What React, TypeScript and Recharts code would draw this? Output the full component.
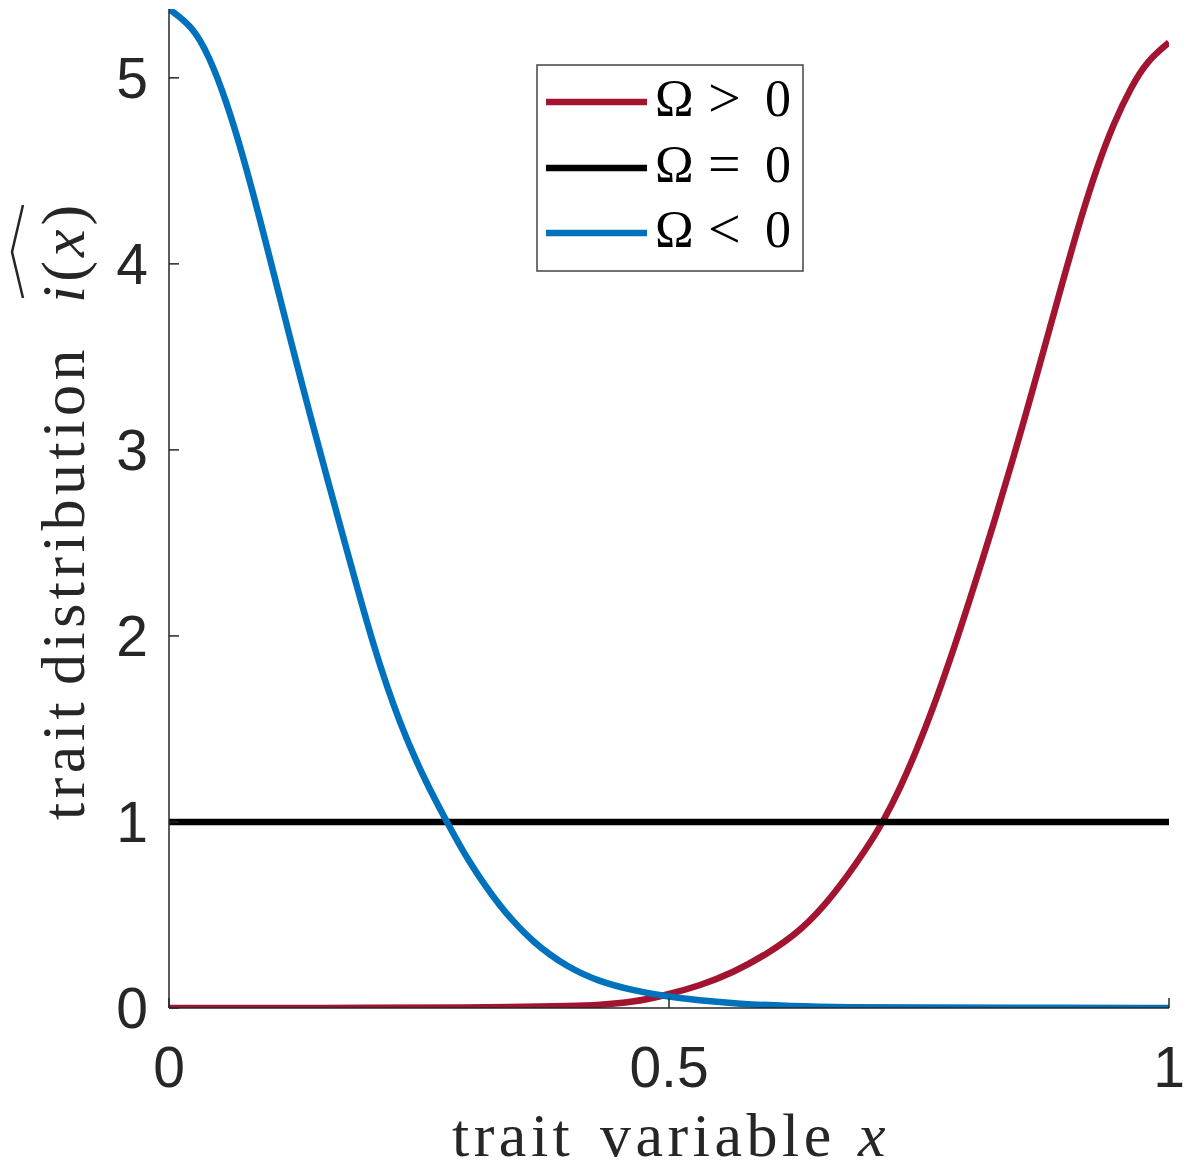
import React from "react"
import {
  LineChart,
  Line,
  XAxis,
  YAxis,
  Legend,
} from "recharts"

// x positions and values
const blueX = [0, 0.023, 0.04, 0.057, 0.073, 0.09, 0.107, 0.123, 0.14, 0.157, 0.181, 0.204, 0.231, 0.258, 0.278, 0.298, 0.331, 0.364, 0.398, 0.431, 0.464, 0.494, 0.53, 0.57, 0.62, 0.68, 0.75, 0.85, 1.0]
const blueY = [5.37, 5.28, 5.12, 4.88, 4.6, 4.26, 3.9, 3.56, 3.21, 2.87, 2.4, 1.95, 1.52, 1.2, 1.0, 0.8, 0.54, 0.35, 0.22, 0.14, 0.095, 0.065, 0.04, 0.022, 0.01, 0.004, 0.002, 0.001, 0]

const redX = [0, 0.1, 0.2, 0.3, 0.36, 0.4, 0.431, 0.464, 0.494, 0.531, 0.564, 0.598, 0.631, 0.664, 0.698, 0.714, 0.731, 0.748, 0.764, 0.781, 0.8, 0.828, 0.845, 0.862, 0.878, 0.895, 0.912, 0.928, 0.945, 0.962, 0.978, 1.0]
const redY = [0, 0, 0.001, 0.003, 0.006, 0.01, 0.016, 0.032, 0.065, 0.12, 0.19, 0.29, 0.41, 0.6, 0.86, 1.0, 1.18, 1.39, 1.61, 1.87, 2.18, 2.66, 2.97, 3.29, 3.6, 3.93, 4.25, 4.52, 4.76, 4.95, 5.09, 5.19]

const blackX = [0, 1]
const blackY = [1, 1]

const xTicks = [0, 0.5, 1]
const yTicks = [0, 1, 2, 3, 4, 5]
const yMax = 5.37

const seriesNames = ["Ω > 0", "Ω = 0", "Ω < 0"]
const seriesRel = [">", "=", "<"]
const seriesColors = ["#A2142F", "#000000", "#0072BD"]

const toRows = (xs: number[], ys: number[]) => xs.map((x, i) => ({ x, y: ys[i] }))

const redData = toRows(redX, redY)
const blackData = toRows(blackX, blackY)
const blueData = toRows(blueX, blueY)

const axisColor = "#262626"
const tickFont = "'Liberation Sans', Arial, sans-serif"
const serif = "'Liberation Serif', 'Times New Roman', serif"
const lineWidth = 6.5

function XTitle() {
  return (
    <text y={1156} fontFamily={serif} fontSize={62} fill={axisColor} letterSpacing={4.5}>
      <tspan x={452}>trait</tspan>
      <tspan x={600}>variable</tspan>
      <tspan x={858} fontStyle="italic">x</tspan>
    </text>
  )
}

function YTitle() {
  return (
    <g transform="translate(84,820) rotate(-90)">
      <text y={0} fontFamily={serif} fontSize={62} fill={axisColor} letterSpacing={4.5}>
        <tspan x={0}>trait</tspan>
        <tspan x={135}>distribution</tspan>
      </text>
      <text x={517} y={0} fontFamily={serif} fontSize={62} fill={axisColor} letterSpacing={4}>
        <tspan fontStyle="italic">i</tspan>(<tspan fontStyle="italic">x</tspan>)
      </text>
      <path d="M 522 -61 L 568 -72 L 615 -61" fill="none" stroke={axisColor} strokeWidth={2.5} />
    </g>
  )
}

function LegendBox() {
  const rows = [103, 169, 234]
  return (
    <svg width={268} height={208} style={{ display: "block" }}>
      <rect x={1} y={1} width={266} height={206} fill="#fff" stroke="#444" strokeWidth={1.5} />
      {seriesNames.map((name, i) => {
        const cy = rows[i] - 65
        return (
          <g key={name}>
            <line x1={10} x2={111} y1={cy} y2={cy} stroke={seriesColors[i]} strokeWidth={lineWidth} />
            <text x={119} y={cy + 14} fontFamily={serif} fontSize={52} fill="#000">Ω</text>
            <text x={172} y={cy + 15} fontFamily={serif} fontSize={58} fill="#000">{seriesRel[i]}</text>
            <text x={229} y={cy + 14} fontFamily={serif} fontSize={52} fill="#000">0</text>
          </g>
        )
      })}
    </svg>
  )
}

export default function App() {
  return (
    <div style={{ position: "absolute", left: 0, top: 0, width: 1185, height: 1168, background: "#fff" }}>
      <LineChart
        width={1185}
        height={1168}
        margin={{ top: 9, right: 16, bottom: 100, left: 109 }}
      >
        <XAxis
          dataKey="x"
          type="number"
          domain={[0, 1]}
          ticks={xTicks}
          allowDataOverflow
          height={60}
          stroke={axisColor}
          strokeWidth={1.5}
          tickSize={-10}
          tickMargin={49}
          tick={{ fontFamily: tickFont, fontSize: 57, fill: axisColor }}
          tickFormatter={(v: number) => String(v)}
          label={<XTitle />}
        />
        <XAxis
          xAxisId="top"
          orientation="top"
          type="number"
          domain={[0, 1]}
          ticks={xTicks}
          height={0}
          stroke={axisColor}
          strokeWidth={1.5}
          tickSize={-10}
          tick={false}
        />
        <YAxis
          type="number"
          domain={[0, yMax]}
          ticks={yTicks}
          allowDataOverflow
          width={60}
          stroke={axisColor}
          strokeWidth={1.5}
          tickSize={-10}
          tickMargin={31}
          tick={{ fontFamily: tickFont, fontSize: 57, fill: axisColor }}
          label={<YTitle />}
        />
        <YAxis
          yAxisId="right"
          orientation="right"
          type="number"
          domain={[0, yMax]}
          ticks={yTicks}
          width={0}
          stroke={axisColor}
          strokeWidth={1.5}
          tickSize={-10}
          tick={false}
        />
        <Legend
          layout="vertical"
          align="center"
          verticalAlign="middle"
          wrapperStyle={{ left: 536, top: 64, width: 268, height: 208 }}
          content={<LegendBox />}
        />
        <Line data={redData} dataKey="y" name={seriesNames[0]} type="basis" stroke={seriesColors[0]} strokeWidth={lineWidth} dot={false} isAnimationActive={false} />
        <Line data={blackData} dataKey="y" name={seriesNames[1]} type="linear" stroke={seriesColors[1]} strokeWidth={lineWidth} dot={false} isAnimationActive={false} />
        <Line data={blueData} dataKey="y" name={seriesNames[2]} type="basis" stroke={seriesColors[2]} strokeWidth={lineWidth} dot={false} isAnimationActive={false} />
      </LineChart>
    </div>
  )
}
